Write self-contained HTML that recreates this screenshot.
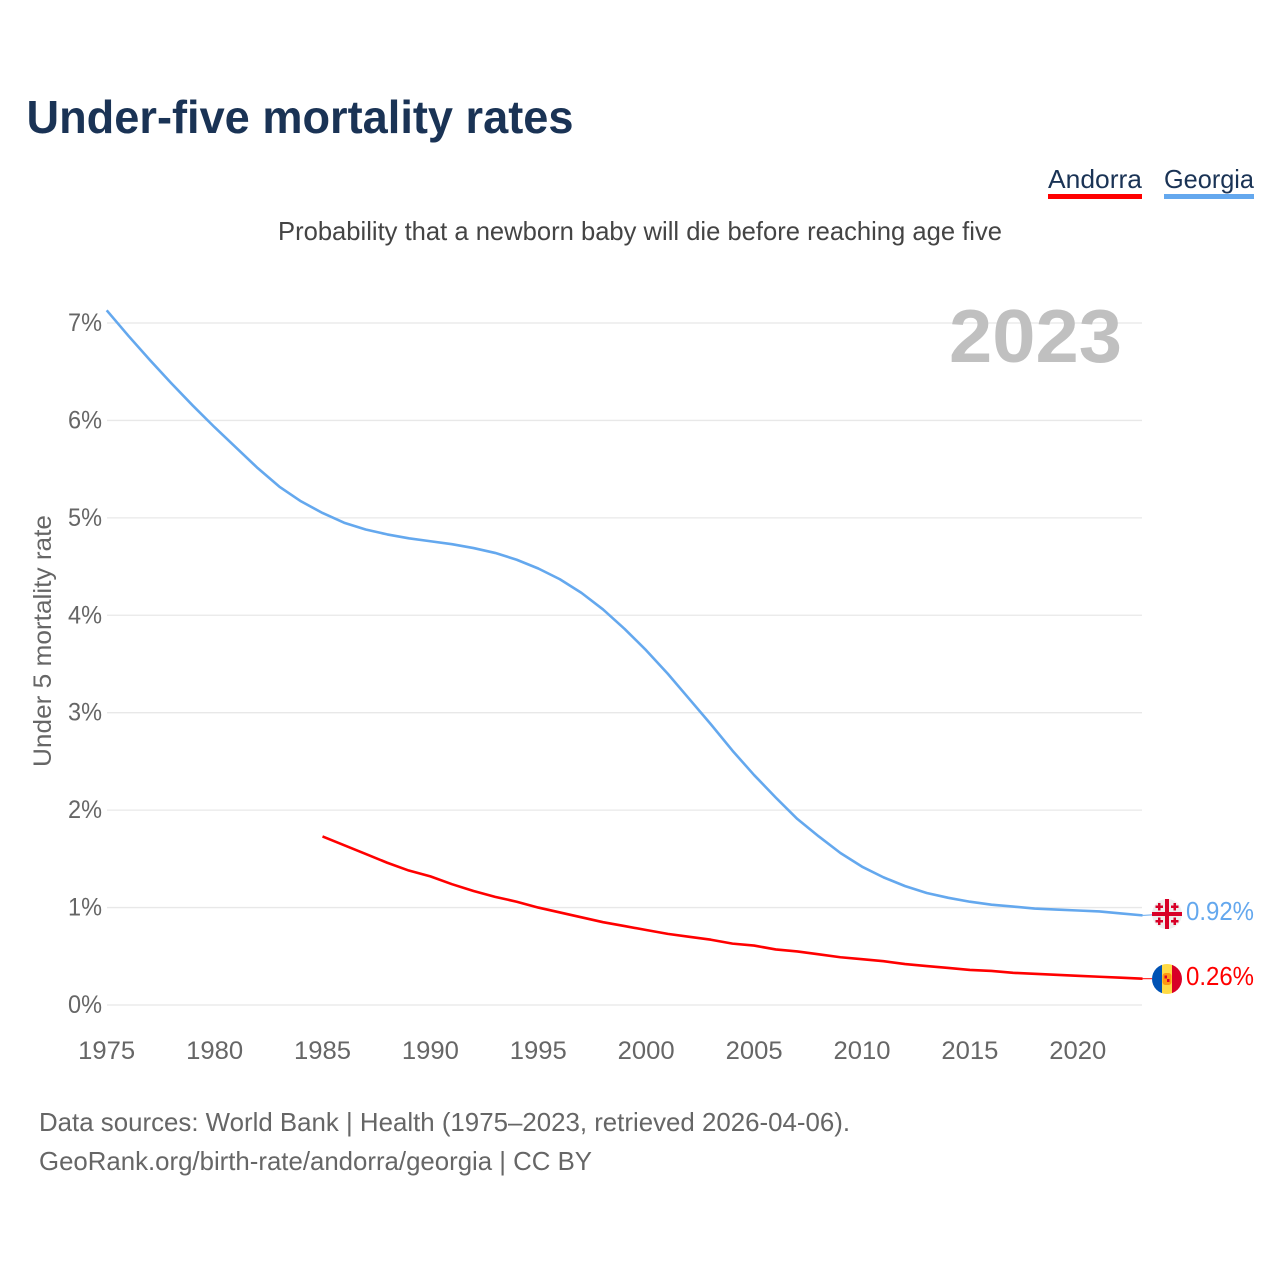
<!DOCTYPE html>
<html lang="en">
<head>
<meta charset="utf-8">
<title>Under-five mortality rates</title>
<style>
html,body{margin:0;padding:0;background:#fff}
svg{display:block}
text{font-family:"Liberation Sans",sans-serif}
</style>
</head>
<body>
<svg id="chart" width="1280" height="1280" viewBox="0 0 1280 1280" xmlns="http://www.w3.org/2000/svg">
  <text x="26.500" y="133" font-size="46" font-weight="700" fill="#1a3355" textLength="547" lengthAdjust="spacingAndGlyphs">Under-five mortality rates</text>
  <g>
    <text x="1048" y="188" font-size="26" fill="#1a3355" textLength="94" lengthAdjust="spacingAndGlyphs">Andorra</text>
    <rect x="1048" y="194" width="94" height="5" fill="#ff0000"/>
  </g>
  <g>
    <text x="1164" y="188" font-size="26" fill="#1a3355" textLength="90" lengthAdjust="spacingAndGlyphs">Georgia</text>
    <rect x="1164" y="194" width="90" height="5" fill="#64a8ee"/>
  </g>
  <text x="278" y="240" font-size="26" fill="#444444" textLength="724" lengthAdjust="spacingAndGlyphs">Probability that a newborn baby will die before reaching age five</text>
  <g id="grid"></g>
  <g id="yticks"></g>
  <g id="xticks"></g>
  <text transform="translate(51,767) rotate(-90)" x="0" y="0" font-size="25" fill="#666666" textLength="252" lengthAdjust="spacingAndGlyphs">Under 5 mortality rate</text>
  <text x="949" y="362" font-size="75" font-weight="700" fill="#c0c0c0" textLength="173" lengthAdjust="spacingAndGlyphs">2023</text>
  <g id="series"></g>

  <g id="flag-georgia">
    <circle cx="1167" cy="914" r="15" fill="#eeeeee"/>
    <rect x="1152" y="912" width="30" height="4" fill="#d80027"/>
    <rect x="1165" y="899" width="4" height="30" fill="#d80027"/>
    <path d="M1158 903h2.500v2.500h2.500v2.500h-2.500v2.500h-2.500v-2.500h-2.500v-2.500h2.500z M1173.500 903h2.500v2.500h2.500v2.500h-2.500v2.500h-2.500v-2.500h-2.500v-2.500h2.500z M1158 917.500h2.500v2.500h2.500v2.500h-2.500v2.500h-2.500v-2.500h-2.500v-2.500h2.500z M1173.500 917.500h2.500v2.500h2.500v2.500h-2.500v2.500h-2.500v-2.500h-2.500v-2.500h2.500z" fill="#d80027"/>
  </g>
  <g id="flag-andorra">
    <clipPath id="clip-ad"><circle cx="1167" cy="979" r="15"/></clipPath>
    <g clip-path="url(#clip-ad)">
      <rect x="1152" y="964" width="10" height="30" fill="#0052b4"/>
      <rect x="1162" y="964" width="10" height="30" fill="#ffda44"/>
      <rect x="1172" y="964" width="10" height="30" fill="#d80027"/>
      <rect x="1162.500" y="973" width="9" height="12" rx="3" fill="#ff9811"/>
      <rect x="1164.500" y="975.500" width="2.500" height="3" fill="#d80027"/>
      <rect x="1167" y="979" width="2.500" height="3" fill="#d80027"/>
    </g>
  </g>
  <text x="1186" y="920" font-size="26" fill="#64a8ee" textLength="68" lengthAdjust="spacingAndGlyphs">0.92%</text>
  <text x="1186" y="985" font-size="26" fill="#ff0000" textLength="68" lengthAdjust="spacingAndGlyphs">0.26%</text>

  <text x="39" y="1131" font-size="26" fill="#666666" textLength="811" lengthAdjust="spacingAndGlyphs">Data sources: World Bank | Health (1975–2023, retrieved 2026-04-06).</text>
  <text x="39" y="1170" font-size="26" fill="#666666" textLength="553" lengthAdjust="spacingAndGlyphs">GeoRank.org/birth-rate/andorra/georgia | CC BY</text>
</svg>
<script>
const yTickValues = [0, 1, 2, 3, 4, 5, 6, 7];
const yTickLabels = ["0%", "1%", "2%", "3%", "4%", "5%", "6%", "7%"];
const xTickYears = [1975, 1980, 1985, 1990, 1995, 2000, 2005, 2010, 2015, 2020];
const xTickLabels = ["1975", "1980", "1985", "1990", "1995", "2000", "2005", "2010", "2015", "2020"];
const georgiaStartYear = 1975;
const georgiaValues = [7.13, 6.87, 6.62, 6.38, 6.15, 5.93, 5.72, 5.51, 5.32, 5.17, 5.05, 4.95, 4.88, 4.83, 4.79, 4.76, 4.73, 4.69, 4.64, 4.57, 4.48, 4.37, 4.23, 4.06, 3.86, 3.64, 3.40, 3.14, 2.88, 2.61, 2.36, 2.13, 1.91, 1.73, 1.56, 1.42, 1.31, 1.22, 1.15, 1.10, 1.06, 1.03, 1.01, 0.99, 0.98, 0.97, 0.96, 0.94, 0.92];
const andorraStartYear = 1985;
const andorraValues = [1.73, 1.64, 1.55, 1.46, 1.38, 1.32, 1.24, 1.17, 1.11, 1.06, 1.00, 0.95, 0.90, 0.85, 0.81, 0.77, 0.73, 0.70, 0.67, 0.63, 0.61, 0.57, 0.55, 0.52, 0.49, 0.47, 0.45, 0.42, 0.40, 0.38, 0.36, 0.35, 0.33, 0.32, 0.31, 0.30, 0.29, 0.28, 0.27];

const NS = 'http://www.w3.org/2000/svg';
const xOf = function (year) { return 106.700 + (year - 1975) * 21.58; };
const yOf = function (value) { return 1005 - value * 97.43; };

function make(tag, attrs, parent) {
  const el = document.createElementNS(NS, tag);
  for (const k in attrs) el.setAttribute(k, attrs[k]);
  parent.appendChild(el);
  return el;
}

const grid = document.getElementById('grid');
const yticks = document.getElementById('yticks');
yTickValues.forEach(function (v, i) {
  const line = make('line', { x1: 107, x2: 1142, y1: yOf(v), y2: yOf(v), stroke: '#e8e8e8', 'stroke-width': 1.3 }, grid);
  
  
  const t = make('text', { x: 102, y: yOf(v) + 8, 'font-size': 25, fill: '#666666', 'text-anchor': 'end' }, yticks);
  
  
  t.setAttribute('textLength', 34);
  t.setAttribute('lengthAdjust', 'spacingAndGlyphs');
  t.textContent = yTickLabels[i];
});

const xticks = document.getElementById('xticks');
xTickYears.forEach(function (yr, i) {
  const t = make('text', { x: xOf(yr), y: 1059, 'font-size': 25, fill: '#666666', 'text-anchor': 'middle' }, xticks);
  
  
  t.setAttribute('textLength', 57);
  t.setAttribute('lengthAdjust', 'spacingAndGlyphs');
  t.textContent = xTickLabels[i];
});

function pathFor(values, startYear) {
  return values.map(function (v, i) {
    return (i ? 'L' : 'M') + xOf(startYear + i).toFixed(2) + ' ' + yOf(v).toFixed(2);
  }).join(' ');
}

const seriesGroup = document.getElementById('series');

const georgiaLine = make('path', { d: pathFor(georgiaValues, georgiaStartYear), fill: 'none', stroke: '#64a8ee', 'stroke-width': 2.6, 'stroke-linejoin': 'round' }, seriesGroup);



const andorraLine = make('path', { d: pathFor(andorraValues, andorraStartYear), fill: 'none', stroke: '#ff0000', 'stroke-width': 2.6, 'stroke-linejoin': 'round' }, seriesGroup);



const georgiaLast = georgiaValues[georgiaValues.length - 1];
const georgiaConnector = make('line', { x1: xOf(2023), x2: 1152, y1: yOf(georgiaLast), y2: yOf(georgiaLast) - 0.5, stroke: '#64a8ee', 'stroke-width': 1 }, seriesGroup);



const andorraLast = andorraValues[andorraValues.length - 1];
const andorraConnector = make('line', { x1: xOf(2023), x2: 1152, y1: yOf(andorraLast), y2: yOf(andorraLast), stroke: '#ff0000', 'stroke-width': 1 }, seriesGroup);


</script>
</body>
</html>
